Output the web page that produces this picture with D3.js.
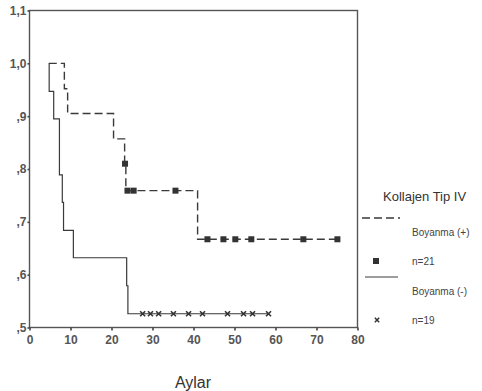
<!doctype html>
<html lang="tr">
<head>
  <meta charset="utf-8">
  <title>Kaplan-Meier - Kollajen Tip IV</title>
  <style>
    body { margin: 0; background: #fff; }
    svg { display: block; font-family: "Liberation Sans", Arial, sans-serif; }
  </style>
</head>
<body>
  <svg width="482" height="391"></svg>

  <script src="https://cdn.jsdelivr.net/npm/d3@7"></script>
  <script>
    // Boyanma (+), n=21 : dashed curve
    var plusStart = 4.7;
    var plusEventTimes = [8.5, 9.3, 20.5, 23.2, 23.5, 41.0];
    var plusSurvival = [0.952, 0.905, 0.857, 0.810, 0.759, 0.667];
    var plusCensored = [23.3, 23.9, 25.4, 35.6, 43.4, 47.3, 50.2, 54.1, 66.8, 75.1];

    // Boyanma (-), n=19 : solid curve
    var minusStart = 4.8;
    var minusEventTimes = [4.8, 5.9, 7.3, 8.0, 8.3, 10.7, 23.7, 24.0];
    var minusSurvival = [0.947, 0.895, 0.789, 0.737, 0.684, 0.632, 0.579, 0.526];
    var minusCensored = [27.6, 29.5, 31.5, 35.1, 38.8, 42.2, 48.3, 52.2, 54.4, 58.3];

    var xTicks = [0, 10, 20, 30, 40, 50, 60, 70, 80];
    var yTicks = [0.5, 0.6, 0.7, 0.8, 0.9, 1.0, 1.1];
    var yTickLabels = [",5", ",6", ",7", ",8", ",9", "1,0", "1,1"];

    var ink = "#3a3a3a";
    var svg = d3.select("svg");

    var x = d3.scaleLinear().domain([0, 80]).range([29.5, 357.5]);
    var y = d3.scaleLinear().domain([0.5, 1.1]).range([327.5, 10.5]);

    // frame
    svg.append("rect")
      .attr("x", x(0)).attr("y", y(1.1))
      .attr("width", x(80) - x(0)).attr("height", y(0.5) - y(1.1))
      .attr("fill", "none").attr("stroke", "#555").attr("stroke-width", 1.4);

    // axes
    var xAxis = svg.append("g")
      .attr("transform", "translate(0," + y(0.5) + ")")
      .call(d3.axisBottom(x).tickValues(xTicks).tickSize(3).tickSizeOuter(0));
    var yAxis = svg.append("g")
      .attr("transform", "translate(" + x(0) + ",0)")
      .call(d3.axisLeft(y).tickValues(yTicks).tickSize(2).tickSizeOuter(0)
        .tickFormat(function (d, i) { return yTickLabels[i]; }));

    [xAxis, yAxis].forEach(function (g) {
      g.select(".domain").remove();
      g.selectAll("line").attr("stroke", "#444").attr("stroke-width", 1.6);
      g.selectAll("text").attr("fill", "#555").attr("font-size", "12px")
        .attr("font-weight", "bold").attr("font-family", "Liberation Sans, Arial, sans-serif");
    });
    xAxis.selectAll("text").attr("dy", "0.9em");
    yAxis.selectAll("text").attr("x", -3);

    // step curves
    function stepPoints(start, times, surv, censored) {
      var pts = [[start, 1]];
      times.forEach(function (t, i) { pts.push([t, surv[i]]); });
      pts.push([d3.max(censored), surv[surv.length - 1]]);
      return pts;
    }
    function survAt(t, times, surv) {
      var v = 1;
      times.forEach(function (tt, i) { if (tt <= t) v = surv[i]; });
      return v;
    }

    var line = d3.line()
      .x(function (d) { return x(d[0]); })
      .y(function (d) { return y(d[1]); })
      .curve(d3.curveStepAfter);

    svg.append("path")
      .datum(stepPoints(minusStart, minusEventTimes, minusSurvival, minusCensored))
      .attr("d", line)
      .attr("fill", "none").attr("stroke", ink).attr("stroke-width", 1.2);

    svg.append("path")
      .datum(stepPoints(plusStart, plusEventTimes, plusSurvival, plusCensored))
      .attr("d", line)
      .attr("fill", "none").attr("stroke", ink).attr("stroke-width", 1.4)
      .attr("stroke-dasharray", "8,4");

    // censor marks
    svg.selectAll(".cplus").data(plusCensored).enter()
      .append("rect")
      .attr("class", "cplus")
      .attr("x", function (d) { return x(d) - 3; })
      .attr("y", function (d) { return y(survAt(d, plusEventTimes, plusSurvival)) - 3; })
      .attr("width", 6).attr("height", 6)
      .attr("fill", "#333");

    svg.selectAll(".cminus").data(minusCensored).enter()
      .append("path")
      .attr("class", "cminus")
      .attr("transform", function (d) {
        return "translate(" + x(d) + "," + y(survAt(d, minusEventTimes, minusSurvival)) + ")";
      })
      .attr("d", d3.symbol().type(d3.symbolX).size(18))
      .attr("fill", "none").attr("stroke", "#333").attr("stroke-width", 1.6);

    // x axis title
    svg.append("text")
      .attr("x", 193).attr("y", 388)
      .attr("text-anchor", "middle")
      .attr("font-size", "16px").attr("fill", "#333")
      .text("Aylar");

    // legend
    var lg = svg.append("g");
    lg.append("text").attr("x", 383).attr("y", 201)
      .attr("font-size", "13px").attr("fill", "#333").text("Kollajen Tip IV");
    lg.append("line").attr("x1", 362).attr("x2", 400).attr("y1", 218).attr("y2", 218)
      .attr("stroke", ink).attr("stroke-width", 1.4).attr("stroke-dasharray", "8,4");
    lg.append("text").attr("x", 412).attr("y", 236)
      .attr("font-size", "10px").attr("fill", "#444").text("Boyanma (+)");
    lg.append("rect").attr("x", 373).attr("y", 258).attr("width", 6).attr("height", 6)
      .attr("fill", "#333");
    lg.append("text").attr("x", 412).attr("y", 265)
      .attr("font-size", "10px").attr("fill", "#444").text("n=21");
    lg.append("line").attr("x1", 365).attr("x2", 398).attr("y1", 277).attr("y2", 277)
      .attr("stroke", ink).attr("stroke-width", 1);
    lg.append("text").attr("x", 412).attr("y", 295)
      .attr("font-size", "10px").attr("fill", "#444").text("Boyanma (-)");
    lg.append("path").attr("transform", "translate(377,320)")
      .attr("d", d3.symbol().type(d3.symbolX).size(14))
      .attr("fill", "none").attr("stroke", "#333").attr("stroke-width", 1.5);
    lg.append("text").attr("x", 412).attr("y", 324)
      .attr("font-size", "10px").attr("fill", "#444").text("n=19");
  </script>
</body>
</html>
